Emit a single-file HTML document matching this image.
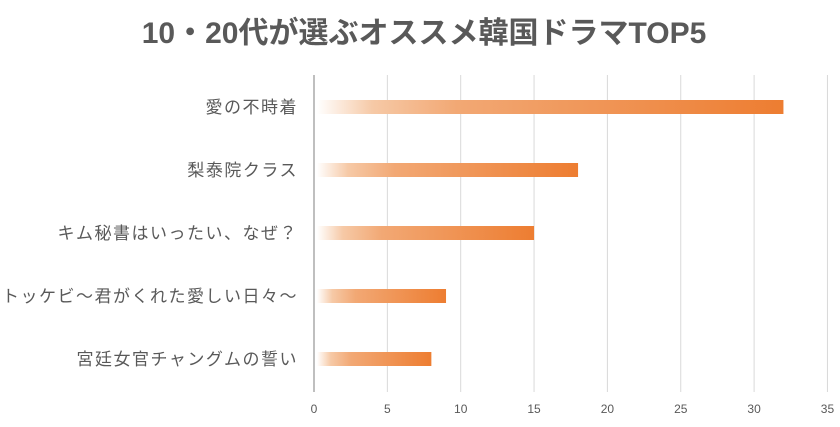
<!DOCTYPE html>
<html><head><meta charset="utf-8"><style>
body{margin:0;background:#fff;width:840px;height:422px;overflow:hidden;font-family:"Liberation Sans","Noto Sans CJK JP",sans-serif}
</style></head><body>
<svg width="840" height="422">
<defs><linearGradient id="g" x1="0" x2="1" y1="0" y2="0">
<stop offset="0" stop-color="#fff"/><stop offset="0.12" stop-color="#f6c9a6"/><stop offset="0.3" stop-color="#f2a874"/><stop offset="1" stop-color="#ed7d31"/></linearGradient></defs>
<text x="424" y="43" text-anchor="middle" font-size="30" font-weight="bold" fill="#595959">10・20代が選ぶオススメ韓国ドラマTOP5</text>
<g id="grid"></g><g id="bars"></g><g id="labels"></g><g id="ticks"></g>
</svg>
<script>
const categories=["愛の不時着","梨泰院クラス","キム秘書はいったい、なぜ？","トッケビ〜君がくれた愛しい日々〜","宮廷女官チャングムの誓い"];
const values=[32,18,15,9,8];
const tickLabels=[0,5,10,15,20,25,30,35];
const ns="http://www.w3.org/2000/svg";
const x0=314,pxPer=14.67,yTop=75,yBot=392,y1=107,step=63;
const xs=v=>x0+v*pxPer;
function mk(t,a,p){const e=document.createElementNS(ns,t);for(const k in a)e.setAttribute(k,a[k]);p.appendChild(e);return e;}
const grid=document.getElementById('grid'),ticks=document.getElementById('ticks'),bars=document.getElementById('bars'),labels=document.getElementById('labels');
tickLabels.forEach(t=>{
 const l=mk('line',{x1:xs(t),x2:xs(t),y1:yTop,y2:yBot,stroke:t===0?'#bfbfbf':'#d9d9d9','stroke-width':t===0?2:1},grid);
 
 
 const tx=mk('text',{x:xs(t),y:413,'text-anchor':'middle','font-size':12,fill:'#595959'},ticks);
 tx.textContent=t;
 
 
});
categories.forEach((c,i)=>{
 const cy=y1+i*step;
 const r=mk('rect',{x:x0+3,y:cy-7,width:Math.max(0,xs(values[i])-x0-3),height:14,fill:'url(#g)'},bars);
 
 
 const t=mk('text',{x:298,y:cy+6,'text-anchor':'end','font-size':17,'letter-spacing':1.5,fill:'#595959'},labels);
 t.textContent=c;
 
 
});
</script>
</body></html>
